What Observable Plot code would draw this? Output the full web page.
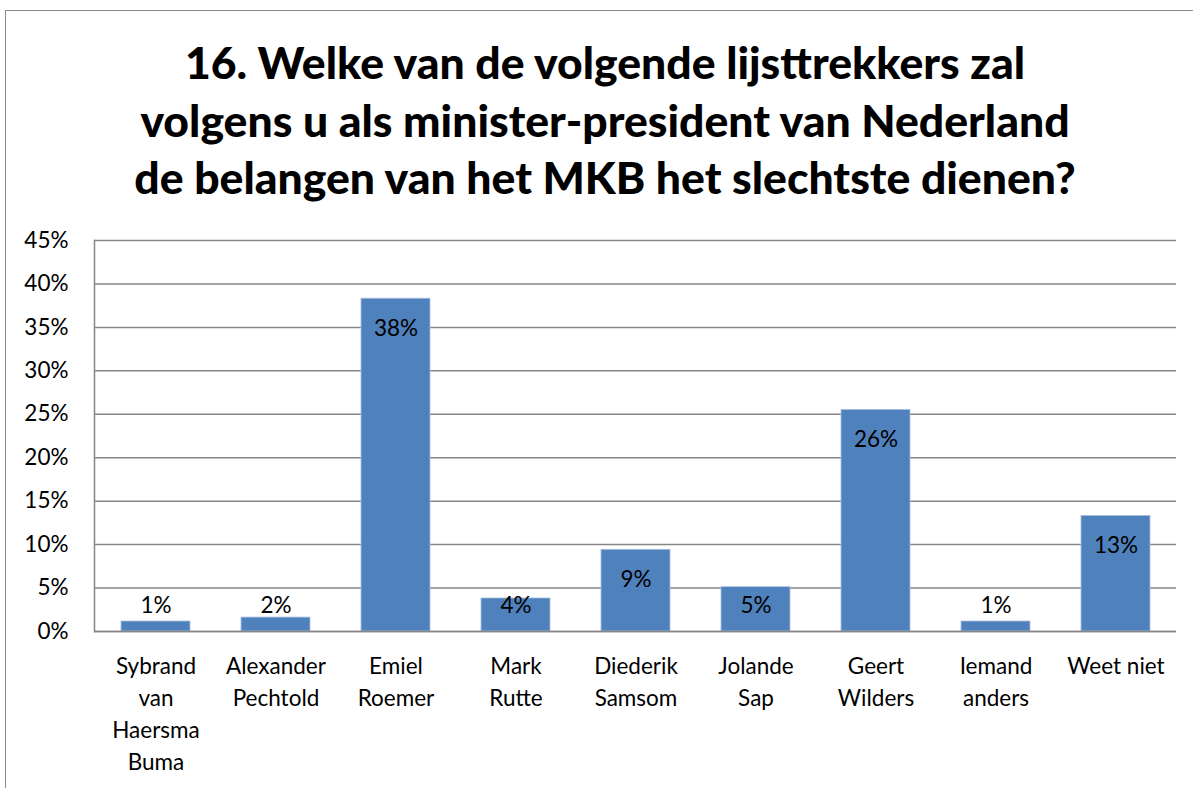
<!DOCTYPE html>
<html>
<head>
<meta charset="utf-8">
<script src="https://cdn.jsdelivr.net/npm/d3@7"></script>
<script src="https://cdn.jsdelivr.net/npm/@observablehq/plot@0.6"></script>
<style>
  html, body { margin: 0; padding: 0; background: #fff; }
  #wrap { position: relative; width: 1193px; height: 788px; overflow: hidden; font-family: Lato, "Open Sans", sans-serif; }
  #border { position: absolute; left: 5px; top: 10px; width: 1400px; height: 1000px; border: 1.5px solid #8a8a8a; box-sizing: border-box; }
  #title { position: absolute; left: 5px; top: 33px; width: 1200px; text-align: center; font-weight: 900; font-size: 44.5px; line-height: 57.5px; color: #000; }
  #chart { position: absolute; left: 0; top: 200px; }
</style>
</head>
<body>
<div id="wrap">
  <div id="border"></div>
  <div id="title">16. Welke van de volgende lijsttrekkers zal<br>volgens u als minister-president van Nederland<br>de belangen van het MKB het slechtste dienen?</div>
  <div id="chart"></div>
</div>
<script>
const categories = ["Sybrand van Haersma Buma", "Alexander Pechtold", "Emiel Roemer", "Mark Rutte", "Diederik Samsom", "Jolande Sap", "Geert Wilders", "Iemand anders", "Weet niet"];
const tickLabels = ["Sybrand\nvan\nHaersma\nBuma", "Alexander\nPechtold", "Emiel\nRoemer", "Mark\nRutte", "Diederik\nSamsom", "Jolande\nSap", "Geert\nWilders", "Iemand\nanders", "Weet niet"];
const values = [1.15, 1.6, 38.3, 3.8, 9.4, 5.1, 25.5, 1.15, 13.3];
const valueLabels = ["1%", "2%", "38%", "4%", "9%", "5%", "26%", "1%", "13%"];
const yTicks = [0, 5, 10, 15, 20, 25, 30, 35, 40, 45];

const data = categories.map((c, i) => ({name: c, value: values[i], label: valueLabels[i]}));
const labelMap = new Map(categories.map((c, i) => [c, tickLabels[i]]));

const plot = Plot.plot({
  width: 1193,
  height: 588,
  marginLeft: 94,
  marginRight: 17,
  marginTop: 40,
  marginBottom: 157,
  style: {fontFamily: "Lato, 'Open Sans', sans-serif", fontSize: "22.5px", color: "#000", background: "transparent"},
  x: {domain: categories, paddingInner: 0.426, paddingOuter: 0.213, label: null},
  y: {domain: [0, 45], label: null},
  marks: [
    Plot.ruleY(yTicks, {stroke: "#868686", strokeWidth: 1.5}),
    Plot.frame({anchor: "left", stroke: "#868686", strokeWidth: 1.5}),
    Plot.barY(data, {x: "name", y: "value", fill: "#4f81bd", stroke: "#a7bfde", strokeWidth: 0.8, inset: 0}),
    Plot.ruleY([0], {stroke: "#868686", strokeWidth: 1.5}),
    Plot.text(data, {x: "name", y: d => Math.max(d.value - 3.45, 3.0), text: "label", fill: "#000", fontSize: 22.5}),
    Plot.axisY({ticks: yTicks, tickFormat: d => d + "%", tickSize: 0, tickPadding: 26, fontSize: 22.5, label: null}),
    Plot.axisX({tickFormat: d => labelMap.get(d), tickSize: 0, tickPadding: 20, fontSize: 22.5, lineHeight: 1.42, label: null})
  ]
});
document.getElementById("chart").appendChild(plot);
</script>
</body>
</html>
